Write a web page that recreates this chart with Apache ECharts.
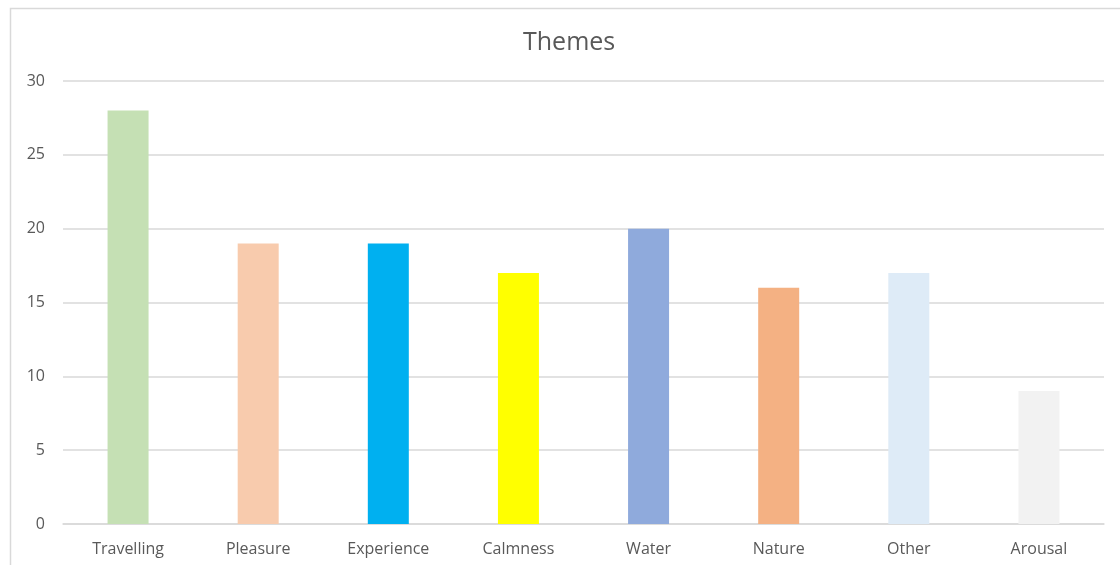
<!DOCTYPE html>
<html>
<head>
<meta charset="utf-8">
<script src="https://cdn.jsdelivr.net/npm/echarts@6/dist/echarts.min.js"></script>
<style>
  html, body { margin: 0; padding: 0; background: #fff; }
  #chart { width: 1120px; height: 565px; }
</style>
</head>
<body>
<div id="chart"></div>
<script>
// Theme counts
const categories = ['Travelling', 'Pleasure', 'Experience', 'Calmness', 'Water', 'Nature', 'Other', 'Arousal'];
const counts = [28, 19, 19, 17, 20, 16, 17, 9];
const barColors = ['#C5E0B4', '#F8CBAD', '#00B0F0', '#FFFF00', '#8FAADC', '#F4B183', '#DEEBF7', '#F2F2F2'];
const yTicks = { min: 0, max: 30, interval: 5 };

const chart = echarts.init(document.getElementById('chart'), null, { renderer: 'canvas' });
const font = '"Open Sans", "Noto Sans", sans-serif';

chart.setOption({
  animation: false,
  backgroundColor: '#fff',
  title: {
    text: 'Themes',
    left: 518,
    top: 25,
    textStyle: { fontFamily: font, fontSize: 25, fontWeight: 'normal', color: '#595959' }
  },
  graphic: [{
    type: 'rect',
    shape: { x: 10.5, y: 8.5, width: 1200, height: 600 },
    style: { fill: 'none', stroke: '#d9d9d9', lineWidth: 1.5 },
    silent: true
  }],
  grid: { left: 63, right: 16, top: 81, bottom: 41, containLabel: false },
  xAxis: {
    type: 'category',
    data: categories,
    axisLine: { lineStyle: { color: '#d9d9d9', width: 1.5 } },
    axisTick: { show: false },
    axisLabel: { margin: 17, fontFamily: font, fontSize: 16, color: '#595959' }
  },
  yAxis: {
    type: 'value',
    min: yTicks.min,
    max: yTicks.max,
    interval: yTicks.interval,
    axisLine: { show: false },
    axisTick: { show: false },
    axisLabel: { margin: 18, fontFamily: font, fontSize: 16, color: '#595959' },
    splitLine: { lineStyle: { color: '#d9d9d9', width: 1.5 } }
  },
  series: [{
    type: 'bar',
    data: counts.map((v, i) => ({ value: v, itemStyle: { color: barColors[i] } })),
    barWidth: 41
  }]
});
</script>
</body>
</html>
